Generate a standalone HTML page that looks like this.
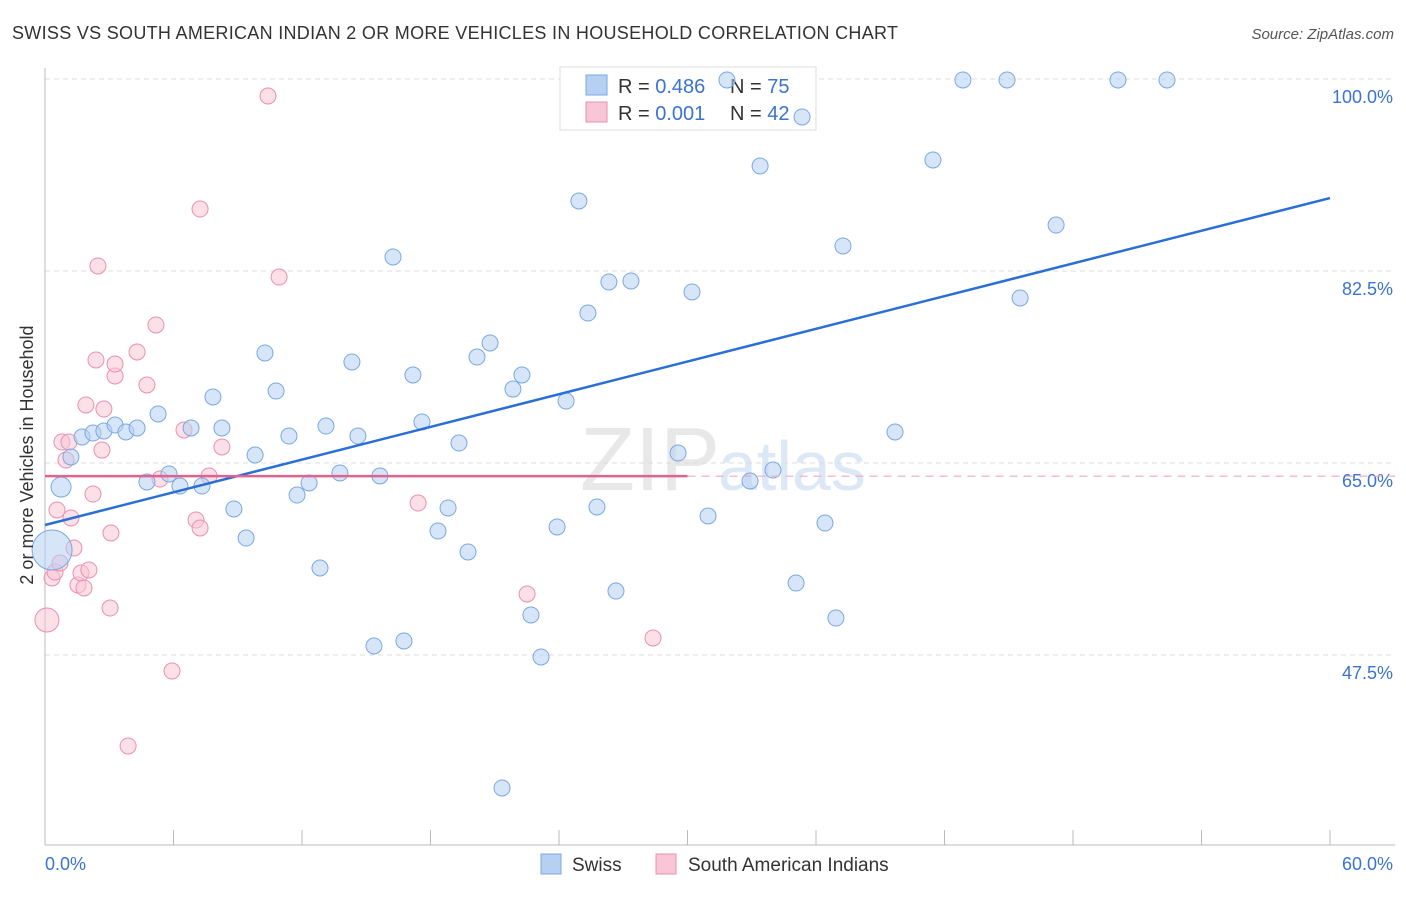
<!DOCTYPE html>
<html><head><meta charset="utf-8"><style>
body{margin:0;background:#fff;font-family:"Liberation Sans",sans-serif;}
svg text{font-family:"Liberation Sans",sans-serif;}
</style></head><body>
<svg id="chart" width="1406" height="892">
<text x="12" y="39" font-size="18" fill="#333" textLength="886">SWISS VS SOUTH AMERICAN INDIAN 2 OR MORE VEHICLES IN HOUSEHOLD CORRELATION CHART</text>
<text x="1394" y="39" font-size="15" fill="#555" font-style="italic" text-anchor="end">Source: ZipAtlas.com</text>
<text x="720" y="490" font-size="90" fill="#e8e8e8" text-anchor="end" font-family="Liberation Serif">ZIP</text>
<text x="718" y="490" font-size="70" fill="#dce8f6">atlas</text>
<g id="grid"></g><g id="axes"></g>
<g>
<rect x="560" y="67" width="256" height="63" fill="#fff" stroke="#ddd"/>
<rect x="586" y="75" width="21" height="20" fill="#b6d0f4" stroke="#7aa8e0"/>
<rect x="586" y="102" width="21" height="20" fill="#f8c6d6" stroke="#e890b0"/>
<text x="618" y="93" font-size="20" fill="#333">R = <tspan fill="#3b73d0">0.486</tspan></text>
<text x="730" y="93" font-size="20" fill="#333">N = <tspan fill="#3b73d0">75</tspan></text>
<text x="618" y="120" font-size="20" fill="#333">R = <tspan fill="#3b73d0">0.001</tspan></text>
<text x="730" y="120" font-size="20" fill="#333">N = <tspan fill="#3b73d0">42</tspan></text>
</g>
<g id="pts"></g><g id="lines"></g>
<text transform="translate(33,455) rotate(-90)" font-size="18" fill="#333" text-anchor="middle">2 or more Vehicles in Household</text>
<text x="45" y="870" font-size="18" fill="#3b73d0">0.0%</text>
<text x="1393" y="870" font-size="18" fill="#3b73d0" text-anchor="end">60.0%</text>
<g>
<rect x="541" y="854" width="20" height="20" fill="#b6d0f4" stroke="#7aa8e0"/>
<text x="572" y="871" font-size="19" fill="#333">Swiss</text>
<rect x="656" y="854" width="20" height="20" fill="#f8c6d6" stroke="#e890b0"/>
<text x="688" y="871" font-size="19" fill="#333">South American Indians</text>
</g>
</svg>
<script>
const yTicks=[100,82.5,65,47.5];
const xTicks=[0,6,12,18,24,30,36,42,48,54,60];
const swissPx=[[61,487],[52,550],[71,457],[82,437],[93,433],[104,431],[115,425],[126,432],[137,428],[147,482],[158,414],[169,474],[180,486],[191,428],[202,486],[213,397],[222,428],[234,509],[246,538],[255,455],[265,353],[276,391],[289,436],[297,495],[309,483],[320,568],[326,426],[340,473],[352,362],[358,436],[374,646],[380,476],[393,257],[404,641],[413,375],[422,422],[438,531],[448,508],[459,443],[468,552],[477,357],[490,343],[513,389],[522,375],[531,615],[541,657],[557,527],[566,401],[579,201],[588,313],[597,507],[609,282],[616,591],[631,281],[678,453],[692,292],[708,516],[727,80],[750,481],[760,166],[773,470],[796,583],[802,117],[825,523],[836,618],[843,246],[895,432],[933,160],[963,80],[1007,80],[1020,298],[1056,225],[1118,80],[1167,80],[502,788]];
const saiPx=[[47,620],[52,578],[55,572],[60,563],[57,510],[62,442],[66,460],[69,442],[71,518],[74,548],[78,585],[81,573],[84,588],[89,570],[93,494],[96,360],[98,266],[102,450],[104,409],[86,405],[110,608],[111,533],[115,376],[115,364],[128,746],[137,352],[147,385],[156,325],[160,479],[172,671],[184,430],[196,520],[200,528],[200,209],[209,476],[222,447],[268,96],[279,277],[418,503],[527,594],[653,638]];
// convert read pixel positions into data values (percent)
const swissX=swissPx.map(p=>+((p[0]-45)*60/1285).toFixed(2));
const swissY=swissPx.map(p=>+(100-(p[1]-79)*17.5/192).toFixed(2));
const saiX=saiPx.map(p=>+((p[0]-45)*60/1285).toFixed(2));
const saiY=saiPx.map(p=>+(100-(p[1]-79)*17.5/192).toFixed(2));
const swissR=swissX.map((v,i)=>i==1?20:(i==0?10:8));
const saiR=saiX.map((v,i)=>i==0?12:8);
const swissTrend=[[0,59.35],[60,89.15]];
const saiTrend=[[0,63.8],[30,63.8]];
const xs=v=>45+v*1285/60, ys=v=>79+(100-v)*192/17.5;
const NS="http://www.w3.org/2000/svg";
function mk(t,a,par){const e=document.createElementNS(NS,t);for(const k in a)e.setAttribute(k,a[k]);document.getElementById(par).appendChild(e);return e;}
yTicks.forEach(v=>{
 const l=mk('line',{x1:45,x2:1395,y1:ys(v),y2:ys(v),stroke:'#ddd','stroke-dasharray':'5,4'},'grid');
 
 
 const t=mk('text',{x:1393,y:ys(v)+24,'font-size':18,fill:'#3b73d0','text-anchor':'end'},'grid');
 t.textContent=v.toFixed(1)+'%';
 
 
});
let a=mk('line',{x1:45,x2:45,y1:68,y2:845,stroke:'#bbb'},'axes');


a=mk('line',{x1:45,x2:1395,y1:845,y2:845,stroke:'#bbb'},'axes');


xTicks.forEach(v=>{const t=mk('line',{x1:xs(v),x2:xs(v),y1:830,y2:845,stroke:'#bbb'},'axes');
 
 });
saiX.forEach((x,i)=>{const c=mk('circle',{cx:xs(x),cy:ys(saiY[i]),r:saiR[i],fill:'#f8c6d6','fill-opacity':0.55,stroke:'#e890b0','stroke-width':1},'pts');
 
 });
swissX.forEach((x,i)=>{const c=mk('circle',{cx:xs(x),cy:ys(swissY[i]),r:swissR[i],fill:'#b6d0f4','fill-opacity':0.55,stroke:'#7aa8e0','stroke-width':1},'pts');
 
 });
let l=mk('line',{x1:xs(swissTrend[0][0]),y1:ys(swissTrend[0][1]),x2:xs(swissTrend[1][0]),y2:ys(swissTrend[1][1]),stroke:'#2a6fd6','stroke-width':2.5},'lines');


l=mk('line',{x1:xs(saiTrend[0][0]),y1:ys(saiTrend[0][1]),x2:xs(saiTrend[1][0]),y2:ys(saiTrend[1][1]),stroke:'#e0638e','stroke-width':2.5},'lines');


l=mk('line',{x1:xs(saiTrend[1][0]),y1:ys(saiTrend[1][1]),x2:1395,y2:ys(saiTrend[1][1]),stroke:'#f0a8c0','stroke-width':1.2,'stroke-dasharray':'8,6'},'lines');


</script>
</body></html>
